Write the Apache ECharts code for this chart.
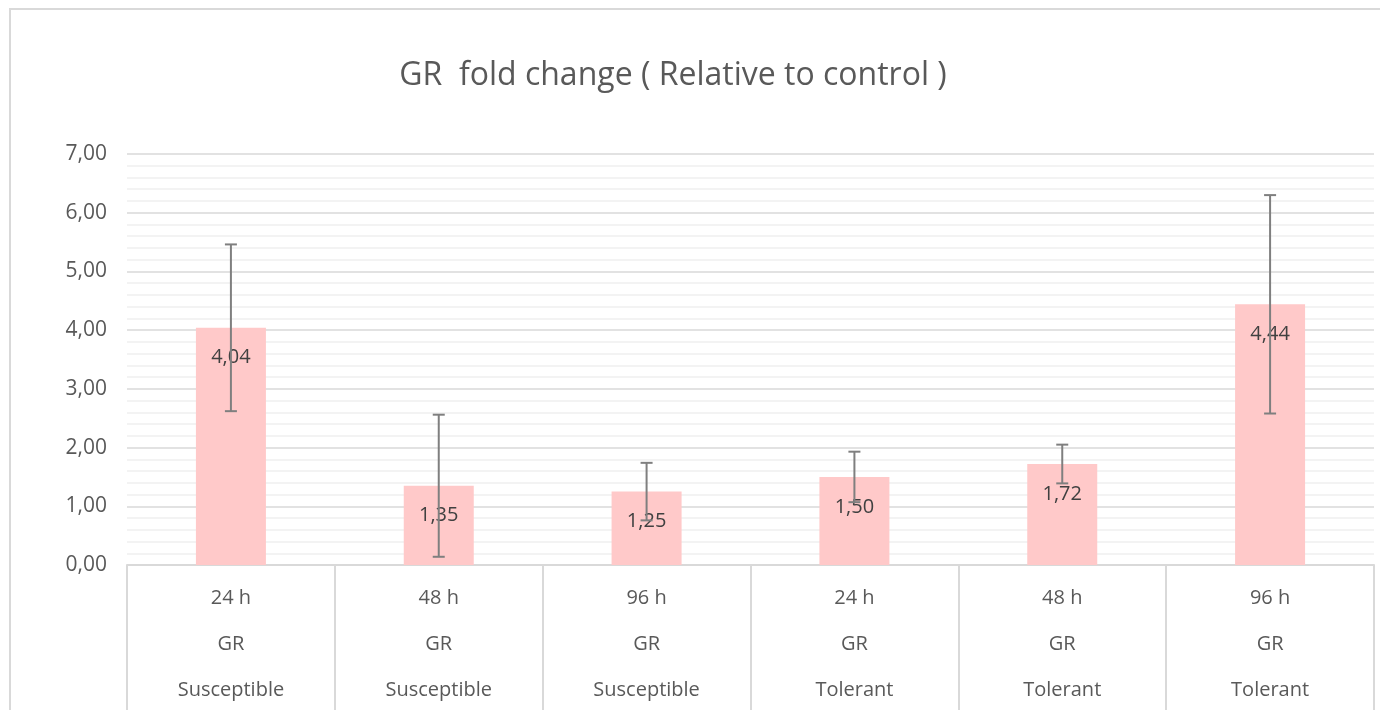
<!DOCTYPE html>
<html>
<head>
<meta charset="utf-8">
<script src="https://cdn.jsdelivr.net/npm/echarts@6/dist/echarts.min.js"></script>
<style>
  html, body { margin: 0; padding: 0; background: #fff; }
  #chart { width: 1380px; height: 710px; }
</style>
</head>
<body>
<div id="chart"></div>
<script>
// data
var hours = ["24 h", "48 h", "96 h", "24 h", "48 h", "96 h"];
var genes = ["GR", "GR", "GR", "GR", "GR", "GR"];
var groups = ["Susceptible", "Susceptible", "Susceptible", "Tolerant", "Tolerant", "Tolerant"];
var foldChange = [4.04, 1.35, 1.25, 1.50, 1.72, 4.44];
var errors = [1.42, 1.21, 0.49, 0.43, 0.33, 1.86];

var categories = hours.map(function (h, i) {
  return h + "\n" + genes[i] + "\n" + groups[i];
});

var fontFam = "'Open Sans', sans-serif";

function fmt(v) {
  return v.toFixed(2).replace(".", ",");
}

var myChart = echarts.init(document.getElementById("chart"));
var option = {
  backgroundColor: "#fff",
  animation: false,
  title: {
    text: "GR  fold change ( Relative to control )",
    left: 668,
    top: 55,
    textAlign: "center",
    textStyle: {
      fontFamily: fontFam,
      fontSize: 32,
      fontWeight: "normal",
      color: "#595959",
    },
  },
  graphic: [
    {
      type: "rect",
      shape: { x: 10, y: 9, width: 1390, height: 720 },
      style: { fill: "none", stroke: "#d9d9d9", lineWidth: 2 },
      silent: true,
    },
  ],
  grid: {
    left: 127,
    right: 6,
    top: 154,
    bottom: 145,
    containLabel: false,
    outerBoundsMode: "none",
  },
  xAxis: {
    type: "category",
    data: categories,
    axisLine: { lineStyle: { color: "#d9d9d9", width: 2 } },
    axisTick: {
      show: true,
      length: 145,
      lineStyle: { color: "#d9d9d9", width: 2 },
    },
    axisLabel: {
      interval: 0,
      margin: 10,
      fontFamily: fontFam,
      fontSize: 20,
      lineHeight: 46,
      color: "#595959",
    },
  },
  yAxis: {
    type: "value",
    min: 0,
    max: 7,
    interval: 1,
    axisLine: { show: false },
    axisTick: { show: false },
    axisLabel: {
      margin: 20,
      fontFamily: fontFam,
      fontSize: 21,
      color: "#595959",
      formatter: fmt,
    },
    splitLine: { lineStyle: { color: "#d9d9d9", width: 1.5 } },
    minorTick: { show: false, splitNumber: 5 },
    minorSplitLine: { show: true, lineStyle: { color: "#efefef", width: 1.5 } },
  },
  series: [
    {
      type: "bar",
      data: foldChange,
      barWidth: 70,
      itemStyle: { color: "#ffc9c9" },
      label: {
        show: true,
        position: "insideTop",
        distance: 20,
        fontFamily: fontFam,
        fontSize: 20,
        color: "#404040",
        formatter: function (p) {
          return fmt(p.value);
        },
      },
      z: 2,
    },
    {
      type: "custom",
      data: foldChange.map(function (v, i) {
        return [i, v - errors[i], v + errors[i]];
      }),
      encode: { x: 0, y: [1, 2] },
      renderItem: function (params, api) {
        var x = api.value(0);
        var lo = api.coord([x, api.value(1)]);
        var hi = api.coord([x, api.value(2)]);
        var cap = 6;
        var st = { stroke: "#7f7f7f", lineWidth: 2 };
        return {
          type: "group",
          children: [
            { type: "line", shape: { x1: hi[0], y1: hi[1], x2: lo[0], y2: lo[1] }, style: st },
            { type: "line", shape: { x1: hi[0] - cap, y1: hi[1], x2: hi[0] + cap, y2: hi[1] }, style: st },
            { type: "line", shape: { x1: lo[0] - cap, y1: lo[1], x2: lo[0] + cap, y2: lo[1] }, style: st },
          ],
        };
      },
      z: 3,
    },
  ],
};
myChart.setOption(option);
</script>
</body>
</html>
